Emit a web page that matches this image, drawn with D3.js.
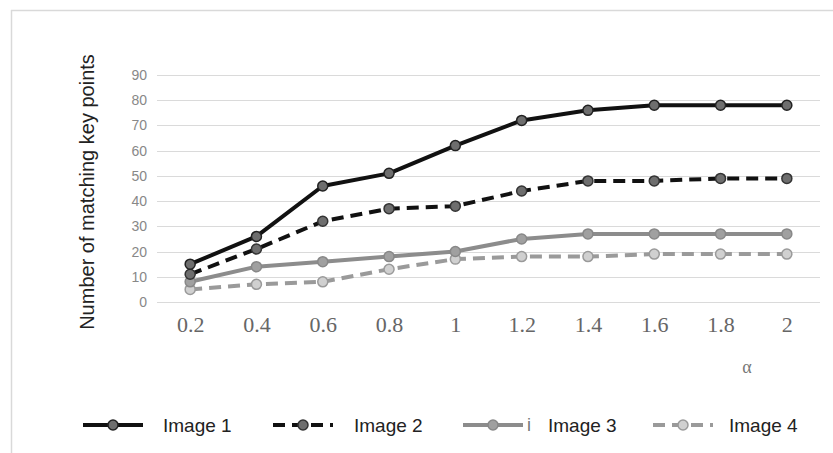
<!DOCTYPE html>
<html><head><meta charset="utf-8">
<script src="https://cdn.jsdelivr.net/npm/d3@7"></script>
<style>body{margin:0;background:#fff}svg{display:block}</style>
</head><body><div id="c"></div>
<script>
const categories = ["0.2","0.4","0.6","0.8","1","1.2","1.4","1.6","1.8","2"];
const image1 = [15,26,46,51,62,72,76,78,78,78];
const image2 = [11,21,32,37,38,44,48,48,49,49];
const image3 = [8,14,16,18,20,25,27,27,27,27];
const image4 = [5,7,8,13,17,18,18,19,19,19];
const yTicks = [0,10,20,30,40,50,60,70,80,90];
const seriesNames = ["Image 1","Image 2","Image 3","Image 4"];

(function(){
const W=833,H=453;
const svg=d3.select("#c").append("svg").attr("width",W).attr("height",H);
// frame
svg.append("line").attr("x1",11.5).attr("x2",11.5).attr("y1",10).attr("y2",H).attr("stroke","#d9d9d9").attr("stroke-width",1.5);
svg.append("line").attr("x1",11).attr("x2",W).attr("y1",10.5).attr("y2",10.5).attr("stroke","#d9d9d9").attr("stroke-width",1.5);

const pLeft=157,pRight=820,pTop=75,pBottom=302;
const x=d3.scalePoint().domain(categories).range([pLeft,pRight]).padding(0.5);
const y=d3.scaleLinear().domain([0,90]).range([pBottom,pTop]);

// gridlines
svg.append("g").selectAll("line").data(yTicks).join("line")
 .attr("x1",pLeft).attr("x2",pRight).attr("y1",d=>Math.round(y(d))+0.5).attr("y2",d=>Math.round(y(d))+0.5)
 .attr("stroke","#dadada").attr("stroke-width",1);

// y axis labels
const ya=svg.append("g").attr("transform",`translate(${pLeft},0)`)
 .call(d3.axisLeft(y).tickValues(yTicks).tickSize(0).tickPadding(10));
ya.select(".domain").remove();
ya.selectAll("text").attr("font-family","Liberation Sans, Arial").attr("font-size",14).attr("fill","#888");

// x axis labels
const xa=svg.append("g").attr("transform",`translate(0,${pBottom})`)
 .call(d3.axisBottom(x).tickSize(0).tickPadding(14));
xa.select(".domain").remove();
xa.selectAll("text").attr("font-family","Liberation Serif, Times New Roman, serif").attr("font-size",22).attr("fill","#666");

// axis titles
svg.append("text").attr("transform","translate(94,192) rotate(-90)").attr("text-anchor","middle")
 .attr("font-family","Liberation Sans, Arial").attr("font-size",20).attr("fill","#222").text("Number of matching key points");
svg.append("text").attr("x",747).attr("y",373).attr("text-anchor","middle")
 .attr("font-family","Liberation Serif, serif").attr("font-size",18).attr("fill","#777").text("α");

const styles=[
 {data:image1,stroke:"#111",width:4,dash:null,mfill:"#6e6e6e",mstroke:"#222"},
 {data:image2,stroke:"#111",width:4,dash:"12,7",mfill:"#6e6e6e",mstroke:"#333"},
 {data:image3,stroke:"#8c8c8c",width:4,dash:null,mfill:"#a0a0a0",mstroke:"#888"},
 {data:image4,stroke:"#9a9a9a",width:4,dash:"12,7",mfill:"#d0d0d0",mstroke:"#9a9a9a"}
];
const line=d3.line().x((d,i)=>x(categories[i])).y(d=>y(d));
styles.slice().reverse().forEach(s=>{
 const g=svg.append("g");
 g.append("path").attr("d",line(s.data)).attr("fill","none").attr("stroke",s.stroke)
  .attr("stroke-width",s.width).attr("stroke-dasharray",s.dash).attr("stroke-linejoin","round");
 g.selectAll("circle").data(s.data).join("circle").attr("cx",(d,i)=>x(categories[i])).attr("cy",d=>y(d))
  .attr("r",5).attr("fill",s.mfill).attr("stroke",s.mstroke).attr("stroke-width",1.5);
});

// legend
const legX=[83,273,463,653], textX=[163,354,548,729], ly=425;
styles.forEach((s,i)=>{
 const g=svg.append("g");
 g.append("line").attr("x1",legX[i]).attr("x2",legX[i]+60).attr("y1",ly).attr("y2",ly)
  .attr("stroke",s.stroke).attr("stroke-width",s.width).attr("stroke-dasharray",s.dash?"12,7":null);
 g.append("circle").attr("cx",legX[i]+30).attr("cy",ly).attr("r",5).attr("fill",s.mfill).attr("stroke",s.mstroke).attr("stroke-width",1.5);
 g.append("text").attr("x",textX[i]).attr("y",ly+7).attr("font-family","Liberation Sans, Arial").attr("font-size",19).attr("fill","#222").text(seriesNames[i]);
});
svg.append("text").attr("x",527).attr("y",431).attr("font-family","Liberation Sans, Arial").attr("font-size",18).attr("fill","#777").text("i");
})();
</script></body></html>
